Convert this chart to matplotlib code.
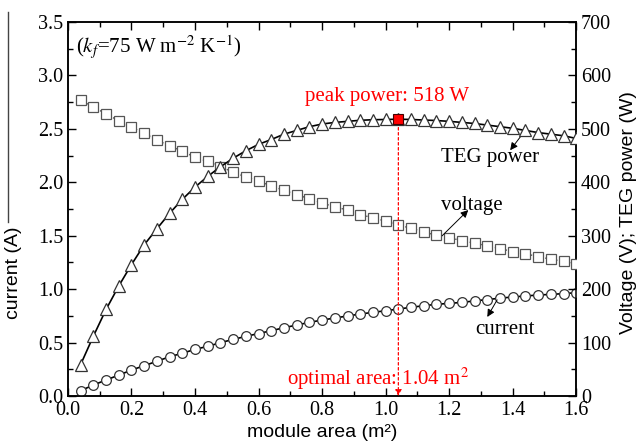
import numpy as np
import matplotlib.pyplot as plt
from matplotlib.lines import Line2D
from matplotlib.ticker import MultipleLocator

plt.rcParams['mathtext.fontset'] = 'stix'

# module area (m^2)
area = [0.04, 0.08, 0.12, 0.16, 0.20, 0.24, 0.28, 0.32, 0.36, 0.40,
        0.44, 0.48, 0.52, 0.56, 0.60, 0.64, 0.68, 0.72, 0.76, 0.80,
        0.84, 0.88, 0.92, 0.96, 1.00, 1.04, 1.08, 1.12, 1.16, 1.20,
        1.24, 1.28, 1.32, 1.36, 1.40, 1.44, 1.48, 1.52, 1.56, 1.60]

# current (A), left axis
current = [0.050, 0.103, 0.150, 0.196, 0.243, 0.284, 0.325, 0.368, 0.400, 0.437,
           0.465, 0.499, 0.530, 0.558, 0.585, 0.611, 0.639, 0.664, 0.689, 0.711,
           0.730, 0.749, 0.767, 0.783, 0.798, 0.814, 0.830, 0.845, 0.858, 0.867,
           0.876, 0.890, 0.903, 0.915, 0.927, 0.936, 0.945, 0.951, 0.958, 0.967]

# voltage (V), right axis
voltage = [554, 541, 528, 515, 503, 492, 479, 468, 458, 447,
           439, 429, 419, 410, 402, 393, 385, 377, 369, 361,
           354, 348, 339, 334, 327, 320, 314, 307, 301, 296,
           291, 286, 281, 276, 270, 266, 261, 256, 252, 248]

# TEG power (W), right axis
power = [59, 112, 162, 206, 246, 283, 313, 342, 368, 391,
         411, 429, 445, 459, 471, 480, 490, 497, 504, 509,
         512, 514, 516, 517, 517.5, 518, 517.5, 516.5, 515.5, 514,
         512, 510, 507, 504, 501, 497, 493, 490, 487, 482]

peak_area = 1.04
peak_power = 518

serif = ['Liberation Serif', 'DejaVu Serif']
sans = ['Liberation Sans', 'DejaVu Sans']

fig = plt.figure(figsize=(6.41, 4.48), dpi=100)
ax = fig.add_axes([0.106, 0.116, 0.793, 0.835])
ax2 = ax.twinx()

ax.plot(area, current, color='black', lw=1.2, marker='o', ms=7,
        mfc='white', mec='#333333', mew=0.9, zorder=3)
ax2.plot(area, voltage, color='#555555', lw=1.0, ls=':', marker='s', ms=7,
         mfc='white', mec='#555555', mew=0.9, zorder=3)
ax2.plot(area, power, color='black', lw=1.2, marker='^', ms=8,
         mfc='white', mec='#333333', mew=0.9, zorder=4)
ax2.plot([peak_area], [peak_power], ls='none', marker='s', ms=7,
         mfc='red', mec='#440000', mew=0.8, zorder=5)

# optimal area dashed line with arrow
ax2.annotate('', xy=(peak_area, 0), xytext=(peak_area, peak_power),
             arrowprops=dict(arrowstyle='-|>', color='red', lw=0.9,
                             ls=(0, (2, 2)), mutation_scale=9,
                             shrinkA=6, shrinkB=0))

ax.set_xlim(0, 1.6)
ax.set_ylim(0, 3.5)
ax2.set_ylim(0, 700)

ax.xaxis.set_major_locator(MultipleLocator(0.2))
ax.xaxis.set_minor_locator(MultipleLocator(0.1))
ax.yaxis.set_major_locator(MultipleLocator(0.5))
ax.yaxis.set_minor_locator(MultipleLocator(0.25))
ax2.yaxis.set_major_locator(MultipleLocator(100))
ax2.yaxis.set_minor_locator(MultipleLocator(50))

ax.tick_params(axis='x', which='both', direction='in', top=True)
ax.tick_params(axis='y', which='both', direction='in', right=False)
ax.tick_params(which='major', length=6, width=1)
ax.tick_params(which='minor', length=3.5, width=1)
ax2.tick_params(axis='y', which='both', direction='in')
ax2.tick_params(which='major', length=6, width=1)
ax2.tick_params(which='minor', length=3.5, width=1)

for a in (ax, ax2):
    for s in a.spines.values():
        s.set_linewidth(1.1)

ax.set_xticklabels(['%.1f' % v for v in ax.get_xticks()], family=serif, fontsize=14.5)
ax.set_yticklabels(['%.1f' % v for v in ax.get_yticks()], family=serif, fontsize=14.5)
ax2.set_yticklabels(['%d' % v for v in ax2.get_yticks()], family=serif, fontsize=14.5)

ax.set_xlabel('module area (m²)', family=sans, fontsize=14)
ax.xaxis.set_label_coords(0.5, -0.075)
ax.set_ylabel('current (A)', family=sans, fontsize=14)
ax.yaxis.set_label_coords(-0.09, 0.33)
ax2.set_ylabel('Voltage (V); TEG power (W)', family=sans, fontsize=14)
ax2.yaxis.set_label_coords(1.087, 0.49)

# stray line left of the current label
fig.add_artist(Line2D([8 / 641, 8 / 641], [1 - 12 / 448, 1 - 222 / 448],
                      color='#444444', lw=1.0))

ax.text(0.025, 3.266, r'($k_f$=75 W m$^{\mathrm{-2}}$ K$^{\mathrm{-1}}$)', family=serif,
        fontsize=15, ha='left', va='center')
ax2.text(1.005, 560, 'peak power: 518 W', color='red', family=serif,
         fontsize=15, ha='center', va='center')
ax2.text(0.977, 32, 'optimal area: 1.04 m$^2$', color='red', family=serif,
         fontsize=15, ha='center', va='center')

arrow = dict(arrowstyle='-|>', color='black', lw=0.7, mutation_scale=11,
             shrinkA=0, shrinkB=0)
ax2.annotate('', xy=(1.392, 460), xytext=(1.433, 492), arrowprops=arrow)
ax2.text(1.329, 447, 'TEG power', family=serif, fontsize=15, ha='center',
         va='center')
ax2.annotate('', xy=(1.26, 348), xytext=(1.178, 300), arrowprops=arrow)
ax2.text(1.272, 357, 'voltage', family=serif, fontsize=15, ha='center',
         va='center')
ax2.annotate('', xy=(1.32, 148), xytext=(1.351, 180), arrowprops=arrow)
ax2.text(1.376, 124, 'current', family=serif, fontsize=15, ha='center',
         va='center')

fig.savefig('out.png', dpi=100)
